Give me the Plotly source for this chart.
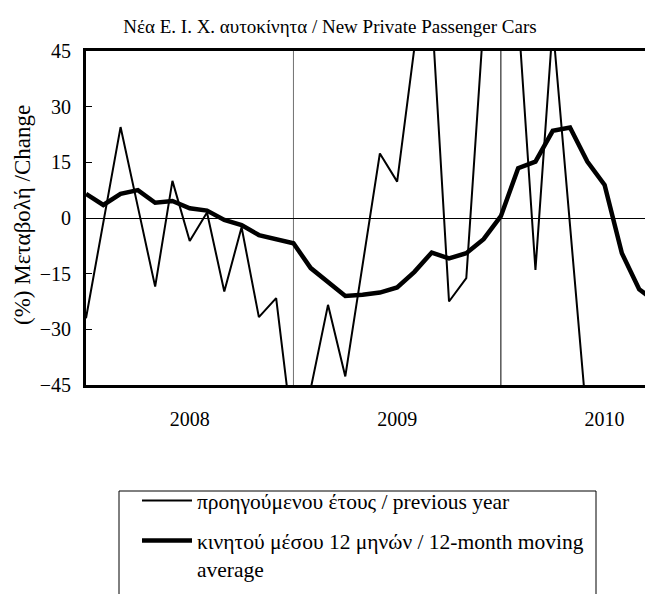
import plotly.graph_objects as go

# ---- data ----
months = [f"{y}-{m:02d}" for y in (2008, 2009, 2010) for m in range(1, 13)][:34]
year_labels = ["2008", "2009", "2010"]

prev_year = [-27, -1, 24.5, 3, -18.5, 10, -6.2, 1.5, -19.8, -2.5, -26.7, -21.6,
             -60, -46, -23.4, -42.7, -12.6, 17.4, 9.8, 46, 56, -22.5, -16.2, 53,
             70, 55, -14, 52, -2, -56]
moving_avg = [6.5, 3.5, 6.5, 7.5, 4.1, 4.6, 2.6, 2.0, -0.5, -1.9, -4.6, -5.7,
              -6.8, -13.5, -17.2, -21.0, -20.7, -20.1, -18.7, -14.5, -9.3, -10.9, -9.5, -5.7,
              0.5, 13.4, 15.2, 23.5, 24.4, 15.2, 8.9, -9.5, -19.2, -22.7]
y_ticks = [-45, -30, -15, 0, 15, 30, 45]

title_text = "Νέα Ε. Ι. Χ. αυτοκίνητα / New Private Passenger Cars"
y_title = "(%) Μεταβολή /Change"
name_prev = "προηγούμενου έτους / previous year"
name_ma = "κινητού μέσου 12 μηνών / 12-month moving<br>average"

# category positions (equally spaced months)
idx = list(range(len(months)))
year_starts = [months.index(f"{y}-01") for y in year_labels]
year_centers = [s + 6 for s in year_starts]

FONT = "Liberation Serif"

# the page body has an 8px default margin, so the figure is laid out 8px up/left
W, H = 645, 586
L, T = 78, 43
PLOT_W, PLOT_H = 567, 334
B = H - T - PLOT_H


def px_x(sx):  # screenshot x -> paper x
    return (sx - 8 - L) / PLOT_W


def px_y(sy):  # screenshot y -> paper y
    return (T + PLOT_H - (sy - 8)) / PLOT_H


fig = go.Figure()
fig.add_trace(go.Scatter(x=idx[:len(prev_year)], y=prev_year, mode="lines",
                         name=name_prev, legendgroup="a",
                         line=dict(color="black", width=2)))
fig.add_trace(go.Scatter(x=idx[:len(moving_avg)], y=moving_avg, mode="lines",
                         name=name_ma, legendgroup="b",
                         line=dict(color="black", width=4.5)))

# year boundary lines
fig.add_shape(type="line", xref="x", yref="paper", x0=year_starts[1], x1=year_starts[1],
              y0=0, y1=1, line=dict(color="#707070", width=1), layer="below")
fig.add_shape(type="line", xref="x", yref="paper", x0=year_starts[2], x1=year_starts[2],
              y0=0, y1=1, line=dict(color="black", width=1), layer="below")

# legend frame
fig.add_shape(type="rect", xref="paper", yref="paper",
              x0=px_x(119), x1=px_x(596), y0=px_y(491), y1=px_y(640),
              line=dict(color="black", width=1), fillcolor="rgba(0,0,0,0)")

fig.update_layout(
    width=W, height=H,
    margin=dict(l=L, r=0, t=T, b=B, autoexpand=False),
    paper_bgcolor="white", plot_bgcolor="white",
    font=dict(family=FONT, color="black"),
    title=dict(text=title_text, x=322 / W, xanchor="center", y=1 - 18 / H,
               yanchor="middle", font=dict(size=19, family=FONT)),
    showlegend=True,
    legend=dict(x=px_x(137), y=px_y(480), xanchor="left", yanchor="top",
                borderwidth=0, bgcolor="rgba(0,0,0,0)",
                font=dict(size=21.5, family=FONT), tracegroupgap=9, valign="top",
                itemwidth=50),
    xaxis=dict(range=[0, 32.8], tickvals=year_centers, ticktext=year_labels,
               ticks="", showgrid=False, zeroline=False, automargin=False,
               showline=True, linecolor="black", linewidth=3, mirror=True,
               tickfont=dict(size=20, family=FONT), ticklabelstandoff=14),
    yaxis=dict(range=[-45, 45], tickvals=y_ticks, ticks="inside", ticklen=6,
               tickwidth=1, tickcolor="black", showgrid=False, automargin=False,
               zeroline=True, zerolinecolor="black", zerolinewidth=1,
               showline=True, linecolor="black", linewidth=3, mirror=False,
               tickfont=dict(size=20, family=FONT), ticklabelstandoff=8),
)

fig.add_annotation(text=y_title, xref="paper", yref="paper",
                   x=px_x(22), y=px_y(215), textangle=-90,
                   showarrow=False, xanchor="center", yanchor="middle",
                   font=dict(size=23, family=FONT))

fig.write_html("out.html")
